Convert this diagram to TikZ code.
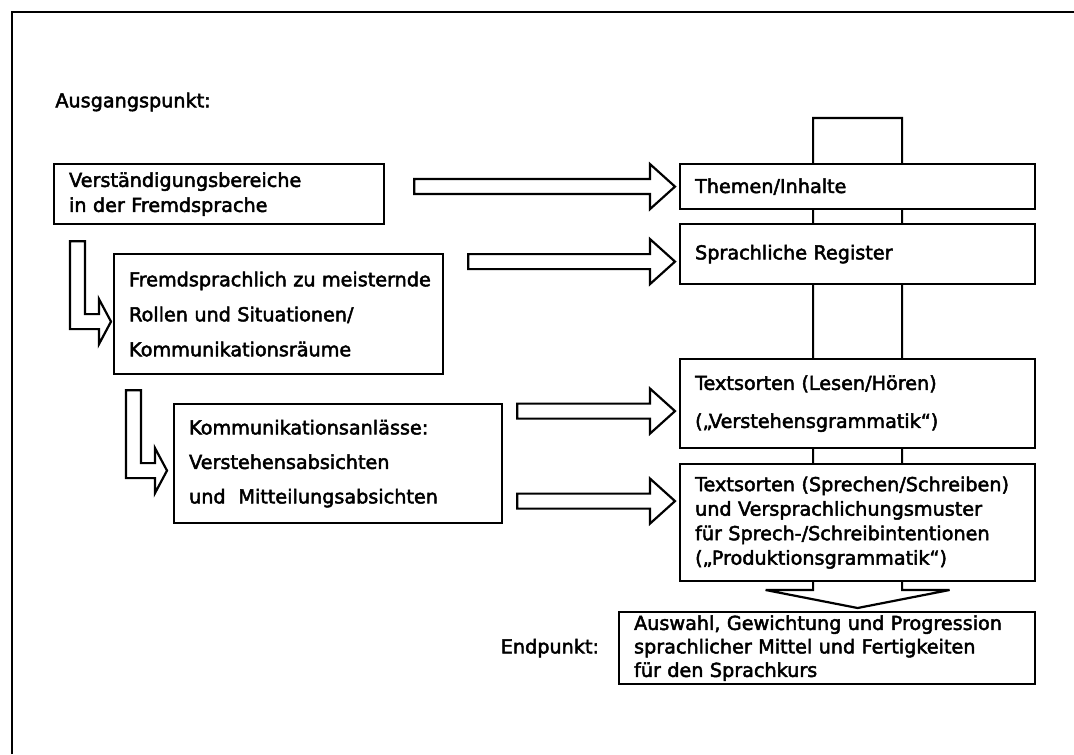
\documentclass[tikz,border=0pt]{standalone}
\usepackage{fontspec}
\setmainfont{DejaVu Sans}[UprightFeatures={FakeBold=2.5}]
\usetikzlibrary{calc,positioning,backgrounds}
\hyphenpenalty=10000
\exhyphenpenalty=10000

\newcommand{\blockpfeil}[2]{%
    \draw[pfeil] let \p1=(#1), \p2=(#2) in
        (\x1,\y1+3.75pt) -- (\x2-12.5pt,\y1+3.75pt) -- (\x2-12.5pt,\y1+11.25pt) -- (\x2,\y1)
        -- (\x2-12.5pt,\y1-11.25pt) -- (\x2-12.5pt,\y1-3.75pt) -- (\x1,\y1-3.75pt) -- cycle;}
\newcommand{\winkelpfeil}[2]{%
    \draw[pfeil] let \p1=(#1), \p2=(#2) in
        (\x1,\y1) -- (\x1+7.5pt,\y1) -- (\x1+7.5pt,\y2+3.75pt) -- (\x2-6pt,\y2+3.75pt) -- (\x2-6pt,\y2+11.25pt)
        -- (\x2,\y2) -- (\x2-6pt,\y2-11.25pt) -- (\x2-6pt,\y2-3.75pt) -- (\x1,\y2-3.75pt) -- cycle;}

\begin{document}
\begin{tikzpicture}[x=0.5pt, y=-0.5pt,
        feld/.style={draw, fill=white, line width=1.1pt, anchor=north west, align=left,
            inner xsep=7.5pt, inner ysep=0pt, font=\fontsize{9.6pt}{12.5pt}\selectfont},
        pfeil/.style={draw, fill=white, line width=1.1pt, line join=miter},
        rahmen/.style={line width=1.1pt}]
    \useasboundingbox (0,0) rectangle (1074,754);
    \draw[rahmen] (12,754) -- (12,12) -- (1074,12);

    \node[anchor=west, inner sep=0pt, font=\fontsize{9.6pt}{12pt}\selectfont] (ausgang) at (55,102) {Ausgangspunkt:};

    \node[feld, text width=150pt, minimum height=30pt] (verst) at (53,163)
        {Verständigungsbereiche\\in der Fremdsprache};
    \node[feld, text width=149.5pt, minimum height=60pt, font=\fontsize{9.6pt}{17.5pt}\selectfont] (rollen) at (113,253)
        {Fremdsprachlich~zu~meisternde\\Rollen und Situationen/\\Kommunikationsräume};
    \node[feld, text width=149pt, minimum height=59.5pt, font=\fontsize{9.6pt}{17.25pt}\selectfont] (anlass) at (173,403)
        {Kommunikationsanlässe:\\Verstehensabsichten\\und~~Mitteilungsabsichten};

    \node[feld, text width=162.5pt, minimum height=22.5pt] (themen) at (679,163) {Themen/Inhalte};
    \node[feld, text width=162.5pt, minimum height=30pt] (register) at (679,223) {Sprachliche Register};
    \node[feld, text width=162.5pt, minimum height=44.5pt, font=\fontsize{9.6pt}{19pt}\selectfont] (lesen) at (679,358)
        {Textsorten (Lesen/Hören)\\(„Verstehensgrammatik“)};
    \node[feld, text width=162.5pt, minimum height=58.5pt, font=\fontsize{9.6pt}{12.25pt}\selectfont] (sprechen) at (679,463)
        {Textsorten~(Sprechen/Schreiben)\\und Versprachlichungsmuster\\für Sprech-/Schreibintentionen\\(„Produktionsgrammatik“)};
    \node[feld, text width=193pt, minimum height=36pt, font=\fontsize{9.6pt}{11.75pt}\selectfont] (auswahl) at (618,611)
        {Auswahl, Gewichtung und Progression\\sprachlicher Mittel und Fertigkeiten\\für den Sprachkurs};
    \node[left=6pt of auswahl, font=\fontsize{9.6pt}{12pt}\selectfont] (endpunkt) {Endpunkt:};

    \begin{scope}[on background layer]
        \draw[pfeil] let \p1=($(themen.north)+(0pt,22.5pt)$), \p2=($(auswahl.north -| themen.north)+(0pt,1.5pt)$) in
            (\x1-22.25pt,\y1) -- (\x1+22.25pt,\y1) -- (\x1+22.25pt,\y2+9pt) -- (\x1+46pt,\y2+9pt)
            -- (\x2,\y2) -- (\x1-46pt,\y2+9pt) -- (\x1-22.25pt,\y2+9pt) -- cycle;
    \end{scope}

    \coordinate (p1a) at ($(verst.east |- themen.west)+(14.5pt,0pt)$);
    \coordinate (p1b) at ($(themen.west)+(-2pt,0pt)$);
    \coordinate (p2a) at ($(rollen.east |- register.west)+(12pt,-3.75pt)$);
    \coordinate (p2b) at ($(register.west)+(-2pt,-3.75pt)$);
    \coordinate (p3a) at ($(anlass.east |- lesen.west)+(7pt,-3.75pt)$);
    \coordinate (p3b) at ($(lesen.west)+(-2pt,-3.75pt)$);
    \coordinate (p4a) at ($(anlass.east |- sprechen.west)+(7pt,10.75pt)$);
    \coordinate (p4b) at ($(sprechen.west)+(-2pt,10.75pt)$);
    \blockpfeil{p1a}{p1b}
    \blockpfeil{p2a}{p2b}
    \blockpfeil{p3a}{p3b}
    \blockpfeil{p4a}{p4b}

    \coordinate (w1a) at ($(verst.south west)+(8.5pt,-8pt)$);
    \coordinate (w1b) at ($(rollen.west)+(-1pt,-3.75pt)$);
    \coordinate (w2a) at ($(rollen.south west)+(6.5pt,-7.5pt)$);
    \coordinate (w2b) at ($(anlass.west)+(-3pt,-3.5pt)$);
    \winkelpfeil{w1a}{w1b}
    \winkelpfeil{w2a}{w2b}
\end{tikzpicture}
\end{document}
